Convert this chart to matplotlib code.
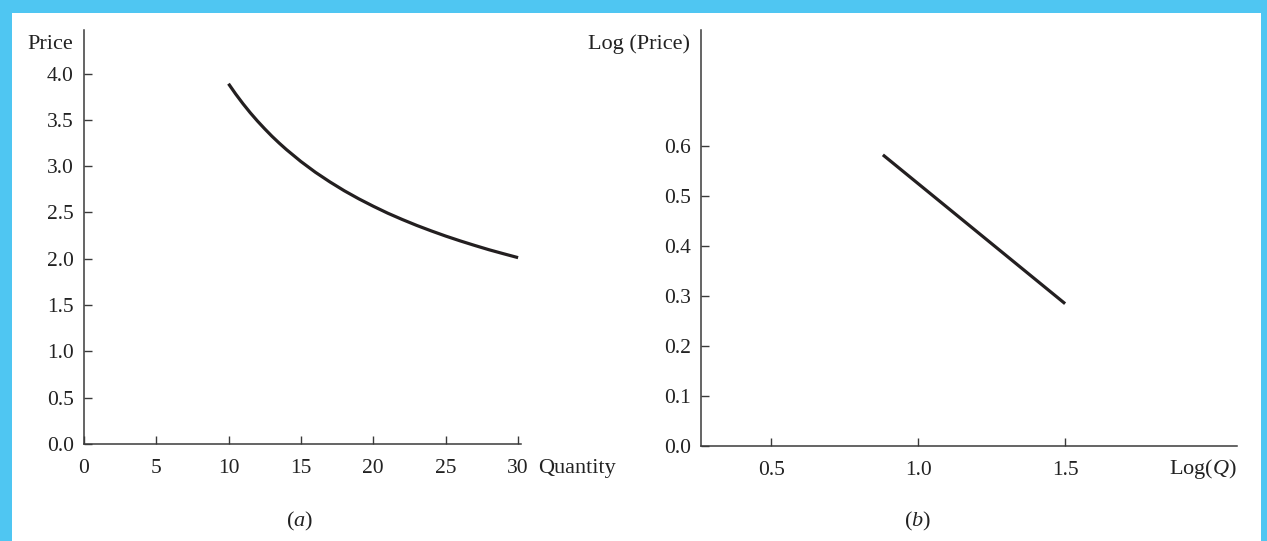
import matplotlib.pyplot as plt
from matplotlib.patches import Rectangle

# -------------------- DATA --------------------
# (a) price vs quantity
quantity = [10, 10.5, 11, 11.5, 12, 12.5, 13, 13.5, 14, 15, 16, 17, 18, 19, 20,
            21, 22, 23, 24, 25, 26, 27, 28, 29, 30]
price = [3.890, 3.778, 3.674, 3.577, 3.487, 3.403, 3.323, 3.249, 3.179,
         3.050, 2.934, 2.830, 2.734, 2.647, 2.567, 2.492, 2.424, 2.360,
         2.301, 2.245, 2.193, 2.144, 2.097, 2.054, 2.012]

# (b) log price vs log quantity (straight line)
log_q = [0.88, 1.5]
log_p = [0.583, 0.285]

a_xticks = [0, 5, 10, 15, 20, 25, 30]
a_yticks = [0.0, 0.5, 1.0, 1.5, 2.0, 2.5, 3.0, 3.5, 4.0]
b_xticks = [0.5, 1.0, 1.5]
b_yticks = [0.0, 0.1, 0.2, 0.3, 0.4, 0.5, 0.6]

# -------------------- STYLE --------------------
plt.rcParams['font.family'] = ['Liberation Serif', 'DejaVu Serif']
plt.rcParams['font.size'] = 16
plt.rcParams['mathtext.fontset'] = 'custom'
plt.rcParams['mathtext.it'] = 'Liberation Serif:italic'
plt.rcParams['mathtext.rm'] = 'Liberation Serif'

ink = "#231f20"
spine_col = "#3a3a3a"
txt = "#222222"
blue = "#4fc6f2"

fig = plt.figure(figsize=(12.67, 5.41), dpi=100)
fig.patch.set_facecolor(blue)
W, H = 1267, 541
# white card inside the blue frame
fig.patches.append(Rectangle((12 / W, 0), (1261 - 12) / W, 1 - 13 / H,
                             transform=fig.transFigure, facecolor="white",
                             edgecolor="none", zorder=-10))


def style_axes(ax):
    for s in ["top", "right"]:
        ax.spines[s].set_visible(False)
    for s in ["left", "bottom"]:
        ax.spines[s].set_color(spine_col)
        ax.spines[s].set_linewidth(1.1)
    ax.tick_params(direction="in", length=6, width=1.0, color=spine_col,
                   labelsize=15.5, labelcolor=txt)
    ax.tick_params(axis="y", pad=7)
    ax.tick_params(axis="x", pad=11)
    ax.set_facecolor("none")


# -------------------- (a) --------------------
ax1 = fig.add_axes([83.7 / W, 1 - 444 / H, (521 - 83.7) / W, (444 - 30) / H])
ax1.plot(quantity, price, color=ink, lw=2.3, solid_capstyle="butt",
         solid_joinstyle="round")
ax1.set_xlim(0, 30.2)
ax1.set_ylim(0, 4.47)
ax1.set_xticks(a_xticks)
ax1.set_xticklabels([str(t) for t in a_xticks])
ax1.set_yticks(a_yticks)
ax1.set_yticklabels([f"{t:.1f}" for t in a_yticks])
style_axes(ax1)
ax1.text(-0.025, 0.965, "Price", transform=ax1.transAxes, ha="right",
         va="center", color=txt)
ax1.text(1.04, -0.06, "Quantity", transform=ax1.transAxes, ha="left",
         va="center", color=txt)
fig.text(300 / W, 1 - 521 / H, r"($a$)", ha="center", va="center", color=txt)

# -------------------- (b) --------------------
ax2 = fig.add_axes([700.7 / W, 1 - 446 / H, (1237 - 700.7) / W, (446 - 30) / H])
ax2.plot(log_q, log_p, color=ink, lw=2.3, solid_capstyle="butt")
ax2.set_xlim(0.26, 2.085)
ax2.set_ylim(0, 0.833)
ax2.set_xticks(b_xticks)
ax2.set_xticklabels([f"{t:.1f}" for t in b_xticks])
ax2.set_yticks(b_yticks)
ax2.set_yticklabels([f"{t:.1f}" for t in b_yticks])
style_axes(ax2)
ax2.text(-0.02, 0.965, "Log (Price)", transform=ax2.transAxes, ha="right",
         va="center", color=txt)
ax2.text(1.0, -0.055, r"Log($Q$)", transform=ax2.transAxes, ha="right",
         va="center", color=txt)
fig.text(918 / W, 1 - 521 / H, r"($b$)", ha="center", va="center", color=txt)

fig.savefig("out.png", dpi=100, facecolor=fig.get_facecolor())
